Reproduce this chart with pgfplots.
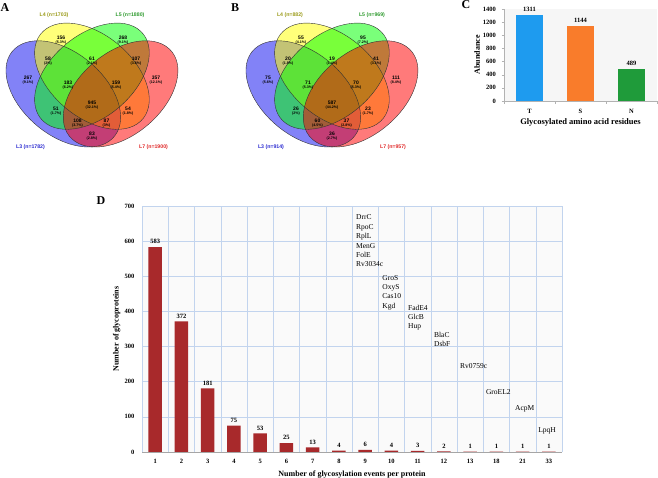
\documentclass[border=0pt]{standalone}
\usepackage{fontspec}
\setmainfont{Liberation Serif}
\newfontfamily\vsans{Liberation Sans}
\usepackage{pgfplots}
\pgfplotsset{compat=1.18}
\definecolor{cT}{HTML}{1E9BEF}
\definecolor{cS}{HTML}{F97C2B}
\definecolor{cN}{HTML}{1F9B3A}
\definecolor{cBar}{HTML}{A8292B}
\definecolor{cGrid}{HTML}{C2D4EE}
\definecolor{vL3}{HTML}{1010F0}
\definecolor{vL4}{HTML}{FFFF00}
\definecolor{vL5}{HTML}{00FF00}
\definecolor{vL7}{HTML}{FF0000}
\definecolor{tL3}{HTML}{2A2AD0}
\definecolor{tL4}{HTML}{9A9A18}
\definecolor{tL5}{HTML}{2E9A2E}
\definecolor{tL7}{HTML}{E02828}

% four ellipses of a Venn diagram, shifted by #1
\newcommand{\venn}[1]{%
\begin{scope}[xshift=#1pt]
  \fill[vL3, fill opacity=0.52, cm={48.62,-45.06,30.39,28.16,(63.3,-93.9)}] (0,0) circle (1pt);
  \fill[vL4, fill opacity=0.52, cm={48.62,-45.06,30.39,28.16,(91.95,-76.2)}] (0,0) circle (1pt);
  \fill[vL5, fill opacity=0.52, cm={48.62,45.06,-30.39,28.16,(91.95,-76.2)}] (0,0) circle (1pt);
  \fill[vL7, fill opacity=0.52, cm={48.62,45.06,-30.39,28.16,(120.6,-93.9)}] (0,0) circle (1pt);
  \draw[black!80, line width=0.4pt, cm={48.62,-45.06,30.39,28.16,(63.3,-93.9)}] (0,0) circle (1pt);
  \draw[black!80, line width=0.4pt, cm={48.62,-45.06,30.39,28.16,(91.95,-76.2)}] (0,0) circle (1pt);
  \draw[black!80, line width=0.4pt, cm={48.62,45.06,-30.39,28.16,(91.95,-76.2)}] (0,0) circle (1pt);
  \draw[black!80, line width=0.4pt, cm={48.62,45.06,-30.39,28.16,(120.6,-93.9)}] (0,0) circle (1pt);
\end{scope}}
\newcommand{\vr}[4]{%
  \node[font=\vsans\bfseries\fontsize{5}{5}\selectfont, inner sep=0] at (#1,-#2) {#3};
  \node[font=\vsans\bfseries\fontsize{3.6}{4}\selectfont, inner sep=0] at (#1,-#2-4.6) {(#4)};}
\newcommand{\vset}[4]{\node[font=\vsans\bfseries\fontsize{5.2}{6}\selectfont, text=#4, inner sep=0] at (#1,-#2) {#3};}

\begin{document}
\begin{tikzpicture}[x=1pt,y=1pt]
\useasboundingbox (0,0) rectangle (658,-478);

% ---- A ----
\venn{0}
\vr{61}{38}{156}{5.3\%}
\vr{123}{38}{268}{9.1\%}
\vr{28}{78}{267}{9.1\%}
\vr{156}{78}{357}{12.1\%}
\vr{48}{59}{58}{2\%}
\vr{92}{59}{61}{2.1\%}
\vr{136}{59}{107}{3.6\%}
\vr{68}{83}{183}{6.2\%}
\vr{116}{83}{159}{5.4\%}
\vr{92}{103}{945}{32.1\%}
\vr{56}{109}{51}{1.7\%}
\vr{128}{109}{54}{1.8\%}
\vr{77.5}{121}{108}{3.7\%}
\vr{106.5}{121}{87}{3\%}
\vr{92}{134}{83}{2.8\%}
\vset{54}{15}{L4 (n=1703)}{tL4}
\vset{130}{15}{L5 (n=1880)}{tL5}
\vset{30.5}{147}{L3 (n=1782)}{tL3}
\vset{153.5}{147}{L7 (n=1900)}{tL7}
\node[font=\bfseries\fontsize{12}{12}\selectfont, inner sep=0] at (5,-8) {A};

% ---- B ----
\venn{240}
\vr{301}{38}{55}{4.1\%}
\vr{363}{38}{95}{7.2\%}
\vr{268}{78}{75}{5.6\%}
\vr{396}{78}{111}{8.4\%}
\vr{288}{59}{20}{1.5\%}
\vr{332}{59}{19}{1.4\%}
\vr{376}{59}{41}{3.1\%}
\vr{308}{83}{71}{5.3\%}
\vr{356}{83}{70}{5.3\%}
\vr{332}{103}{587}{44.2\%}
\vr{296}{109}{26}{2\%}
\vr{368}{109}{23}{1.7\%}
\vr{317.5}{121}{60}{4.5\%}
\vr{346.5}{121}{37}{2.8\%}
\vr{332}{134}{36}{2.7\%}
\vset{290}{15}{L4 (n=882)}{tL4}
\vset{372}{15}{L5 (n=969)}{tL5}
\vset{271}{147}{L3 (n=914)}{tL3}
\vset{393}{147}{L7 (n=957)}{tL7}
\node[font=\bfseries\fontsize{12}{12}\selectfont, inner sep=0] at (235,-8) {B};

% ---- C ----
\node[font=\bfseries\fontsize{12}{12}\selectfont, inner sep=0] at (466,-5) {C};
\begin{axis}[at={(504pt,-101pt)}, anchor=south west, scale only axis,
    width=153pt, height=92pt, clip=false,
    xmin=-0.5, xmax=2.5, ymin=0, ymax=1400,
    xtick={0,1,2}, xticklabels={T,S,N}, ytick={0,200,...,1400},
    minor xtick={-0.5,0.5,1.5,2.5},
    axis lines*=left, axis line style={-, gray!60},
    tick align=outside, major tick length=2.5pt, minor tick length=3pt,
    major x tick style={draw=none}, minor x tick style={gray!60}, ytick style={gray!60},
    axis background/.style={fill=gray!7},
    /pgf/number format/assume math mode=true,
    /pgf/number format/1000 sep={},
    tick label style={font=\bfseries\fontsize{6.5}{7}\selectfont},
    xticklabel style={yshift=-2pt}, yticklabel style={xshift=-2pt},
    nodes near coords,
    every node near coord/.append style={font=\bfseries\fontsize{6.5}{7}\selectfont, inner sep=1.5pt, yshift=1.5pt},
    xlabel={Glycosylated amino acid residues}, ylabel={Abundance},
    every axis x label/.style={at={(axis description cs:0.5,-0.23)}, anchor=center, font=\bfseries\fontsize{8.5}{9}\selectfont},
    every axis y label/.style={at={(axis description cs:-0.176,0.5)}, anchor=center, rotate=90, font=\bfseries\fontsize{8}{9}\selectfont}]
\addplot[ybar, bar shift=0pt, bar width=27pt, fill=cT, draw=none] coordinates {(0,1311)};
\addplot[ybar, bar shift=0pt, bar width=27pt, fill=cS, draw=none] coordinates {(1,1144)};
\addplot[ybar, bar shift=0pt, bar width=27pt, fill=cN, draw=none] coordinates {(2,489)};
\end{axis}

% ---- D ----
\node[font=\bfseries\fontsize{12}{12}\selectfont, inner sep=0] at (101,-201) {D};
\begin{axis}[at={(142pt,-452pt)}, anchor=south west, scale only axis,
    width=420pt, height=246pt, clip=false,
    ybar, bar width=13.3pt,
    xmin=-0.5, xmax=15.5, ymin=0, ymax=700,
    xtick={0,...,15}, xticklabels={1,2,3,4,5,6,7,8,9,10,11,12,13,18,21,33},
    ytick={0,100,...,700},
    minor xtick={-0.5,0.5,...,15.5},
    xminorgrids, ymajorgrids, xmajorgrids=false,
    grid style={cGrid, line width=0.5pt}, minor grid style={cGrid, line width=0.5pt},
    major tick length=0pt, minor tick length=0pt,
    axis line style={draw=none},
    axis background/.style={fill=gray!4},
    /pgf/number format/assume math mode=true,
    tick label style={font=\bfseries\fontsize{6.5}{7}\selectfont},
    xticklabel style={yshift=-4pt}, yticklabel style={xshift=-4pt},
    nodes near coords,
    every node near coord/.append style={font=\bfseries\fontsize{6.5}{7}\selectfont, inner sep=1.5pt, yshift=1.5pt},
    xlabel={Number of glycosylation events per protein}, ylabel={Number of glycoproteins},
    every axis x label/.style={at={(axis description cs:0.5,-0.09)}, anchor=center, font=\bfseries\fontsize{8}{9}\selectfont},
    every axis y label/.style={at={(axis description cs:-0.06,0.5)}, anchor=center, rotate=90, font=\bfseries\fontsize{8}{9}\selectfont}]
\addplot[fill=cBar, draw=none] coordinates {(0,583)(1,372)(2,181)(3,75)(4,53)(5,25)(6,13)(7,4)(8,6)(9,4)(10,3)(11,2)(12,1)(13,1)(14,1)(15,1)};
\draw[gray!70] (axis cs:-0.5,0) -- (axis cs:15.5,0);
\begin{scope}[every node/.style={anchor=north west, align=left, inner sep=0, font=\fontsize{7.5}{9.4}\selectfont}]
\node at (axis cs:7.65,675) {DrrC\\RpoC\\RplL\\MenG\\FolE\\Rv3034c};
\node at (axis cs:8.65,504) {GroS\\OxyS\\Cas10\\Kgd};
\node at (axis cs:9.63,419) {FadE4\\GlcB\\Hup};
\node at (axis cs:10.62,342) {BlaC\\DsbF};
\node at (axis cs:11.61,251) {Rv0759c};
\node at (axis cs:12.6,177) {GroEL2};
\node at (axis cs:13.71,132) {AcpM};
\node at (axis cs:14.59,69) {LpqH};
\end{scope}
\end{axis}
\end{tikzpicture}
\end{document}
